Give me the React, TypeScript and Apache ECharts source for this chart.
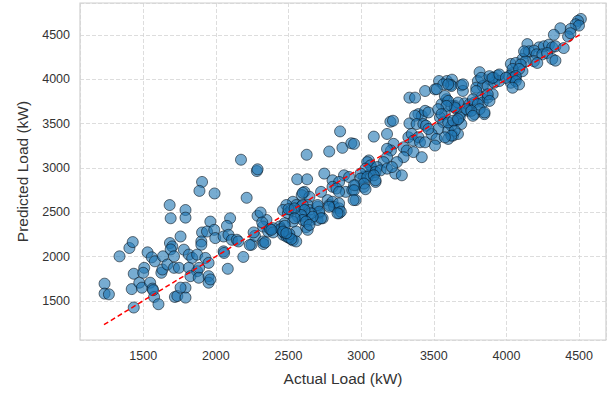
import React, { useEffect, useRef } from "react";
import * as echarts from "echarts";

const actual: number[] = [
  1682,1689,1337,1405,1428,1234,1234,1264,1435,1435,1421,1473,1491,1507,1500,1530,1559,1580,1548,1564,1575,1605,1568,1636,1625,1632,1666,1684,1700,1689,1712,1712,1718,
  2173,2282,1905,1887,1991,2212,1791,1791,1962,2098,2076,1905,1939,1989,1757,1900,1900,1996,2053,2087,2110,2144,2155,2246,2269,2053,2057,2189,2082,1780,1814,1837,1871,1928,1950,1746,1814,1871,1885,1825,1882,1950,1950,1962,1791,1735,1791,1757,
  2855,2871,2780,2932,2625,2560,2628,2746,2882,2917,2803,2848,2803,2830,2610,2591,2644,2530,2553,2485,2462,2496,2519,2587,2633,2644,2700,2712,2769,2780,2803,2814,2848,2848,2894,2939,2564,2610,2655,2700,2735,2621,2553,2530,2473,2439,2451,2348,2325,2360,2325,2394,2462,2485,2507,2530,2553,
  2233,2260,2287,2308,2319,2327,2340,2372,2394,2447,2468,2500,2506,2520,2500,2474,2287,
  2598,2724,2848,2962,3019,3053,3076,3053,3019,3099,2962,2848,2860,2837,2780,2700,2712,2724,2655,2666,2598,2610,2587,2598,2621,2542,2542,2462,2485,2382,2632,2644,
  3440,3332,3371,3394,3417,3371,3440,3201,3219,3332,3382,3428,3446,3178,3087,2951,3325,3348,3360,3394,3405,3440,3223,3205,3178,3292,3314,3360,3417,3292,3178,3246,3155,3042,3065,3030,3110,3099,3133,3178,2996,2996,3042,3087,3099,3019,2951,3030,3235,3280,3212,2951,2948,
  3815,3536,3590,3625,3617,3621,3508,3565,3689,3700,3803,3882,3916,3939,3792,3837,3871,3916,3950,3587,3553,3621,3644,3655,3712,3746,3780,3826,3837,3871,3905,3735,3780,3848,3689,3678,3576,3542,3565,3530,3655,3621,3689,3599,3633,3666,3485,3519,3508,3599,3463,3463,3520,
  3826,3883,3905,3951,4042,4064,4110,3701,3599,3792,3871,3883,3769,3803,3815,3724,3667,3644,3758,3769,3849,3576,3599,3587,3530,3553,3599,3633,3667,3644,3621,3576,
  4512,4492,4476,4499,4442,4424,4440,4371,4326,4144,4224,4258,4292,4315,4337,4132,4155,4189,4207,4247,4280,4315,4337,4394,4189,4212,4110,4132,4030,4064,4098,4042,4087,4019,4042,4064,4030,4064,4087,4042,3996,4121
];

const predicted: number[] = [
  2581,2432,2002,2096,2163,1693,1581,1573,1424,1805,1632,1704,1648,1872,1816,2047,1991,1946,1704,1637,1543,1461,1620,2002,1816,1853,1909,2152,2114,2080,2002,1872,1543,
  3093,2965,2842,2741,2712,2663,2525,2439,2394,2432,2346,2271,2282,2301,2226,2170,2133,2208,2226,2245,2189,2189,2170,2133,2233,2058,2040,1995,1861,2077,2021,1984,2021,1984,1928,1872,1872,1834,1872,1778,1760,1778,1704,1741,1648,1554,1536,1648,
  3413,3227,3186,3279,3149,2872,2872,2936,2917,2898,2861,2842,2787,2768,2730,2693,2674,2618,2581,2581,2525,2488,2525,2563,2581,2525,2562,2488,2637,2581,2618,2562,2544,2488,2730,2749,2450,2450,2413,2413,2432,2331,2282,2394,2376,2338,2301,2413,2338,2282,2170,2320,2245,2226,2208,2182,2170,
  2130,2272,2460,2497,2385,2141,2160,2310,2272,2310,2272,2216,2254,2197,2535,2347,2985,
  2719,2730,2730,2805,2786,3085,2992,2917,2898,2842,2637,2600,2506,2488,2562,2581,2506,2432,2488,2450,2581,2525,2469,2413,2394,2544,2432,2282,2264,2301,2301,2357,
  3869,3794,3794,3608,3590,3590,3645,3522,3533,3503,3496,3496,3477,3384,3354,3272,3347,3384,3309,3347,3290,3290,3272,3197,3216,3234,3197,3179,3122,3122,3122,3066,3066,3066,3029,2992,3010,2954,2973,2992,2936,2880,2898,2917,2861,2824,2805,2760,2936,2917,3010,2749,2637,
  4082,3982,3982,3997,3938,3925,3888,3944,3933,3870,3981,4000,4019,4044,3907,3925,3925,3963,3981,3776,3720,3702,3702,3665,3730,3720,3739,3795,3739,3795,3832,3646,3608,3608,3627,3571,3608,3571,3515,3440,3534,3478,3496,3422,3366,3384,3384,3328,3253,3328,3627,3440,3890,
  4018,4037,4018,4056,4074,4018,4093,3944,3944,3869,3832,3757,3776,3720,3664,3664,3739,3683,3645,3589,3627,3813,3757,3701,3664,3608,3514,3533,3552,3421,3365,3346,
  4683,4661,4623,4608,4570,4485,4522,4578,4504,4399,4362,4374,4392,4362,4374,4298,4317,4325,4283,4283,4298,4230,4212,4354,4205,4186,4230,4205,4175,4186,4168,4118,4118,4037,4018,4037,3962,3981,3943,3906,4018,4317
];

const idealLine: number[] = [1230, 4510];
const xRange: number[] = [1065, 4685];
const yRange: number[] = [1057, 4863];

export default function App() {
  const ref = useRef<HTMLDivElement>(null);
  useEffect(() => {
    if (!ref.current) return;
    const chart = echarts.init(ref.current, undefined, { renderer: "svg" });
    const n = Math.min(actual.length, predicted.length);
    const pts = [] as number[][];
    for (let i = 0; i < n; i++) pts.push([actual[i], predicted[i]]);
    const font = "'Liberation Sans', Arial, sans-serif";
    const fmt = (v: number) => String(Math.round(v));
    chart.setOption({
      animation: false,
      backgroundColor: "#ffffff",
      grid: {
        left: 80, right: 5, top: 3, bottom: 54,
        show: true, borderColor: "#cfcfcf", borderWidth: 1.2, backgroundColor: "transparent",
      },
      xAxis: {
        type: "value",
        min: xRange[0], max: xRange[1], splitNumber: 7,
        name: "Actual Load (kW)", nameLocation: "middle", nameGap: 30,
        nameTextStyle: { fontSize: 15.5, color: "#333333", fontFamily: font },
        axisLine: { show: false }, axisTick: { show: false },
        axisLabel: { showMinLabel: false, showMaxLabel: false, fontSize: 12.5, color: "#333333", fontFamily: font, margin: 9, formatter: fmt },
        splitLine: { show: true, lineStyle: { color: "#d4d4d4", type: [4, 2], width: 0.8 } },
      },
      yAxis: {
        type: "value",
        min: yRange[0], max: yRange[1], splitNumber: 7,
        name: "Predicted Load (kW)", nameLocation: "middle", nameGap: 50,
        nameTextStyle: { fontSize: 15.5, color: "#333333", fontFamily: font },
        axisLine: { show: false }, axisTick: { show: false },
        axisLabel: { showMinLabel: false, showMaxLabel: false, fontSize: 12.5, color: "#333333", fontFamily: font, margin: 10, formatter: fmt },
        splitLine: { show: true, lineStyle: { color: "#d4d4d4", type: [4, 2], width: 0.8 } },
      },
      series: [
        {
          type: "scatter",
          data: pts,
          symbolSize: 11,
          itemStyle: { color: "rgba(31,119,180,0.76)", borderColor: "rgba(10,20,30,0.75)", borderWidth: 1 },
          z: 2,
        },
        {
          type: "line",
          data: [[idealLine[0], idealLine[0]], [idealLine[1], idealLine[1]]],
          symbol: "none",
          lineStyle: { color: "#ff0000", type: [5, 3], width: 1.5 },
          z: 3,
        },
      ],
    });
    return () => chart.dispose();
  }, []);
  return <div ref={ref} style={{ position: "fixed", left: 0, top: 0, width: 611, height: 394 }} />;
}
